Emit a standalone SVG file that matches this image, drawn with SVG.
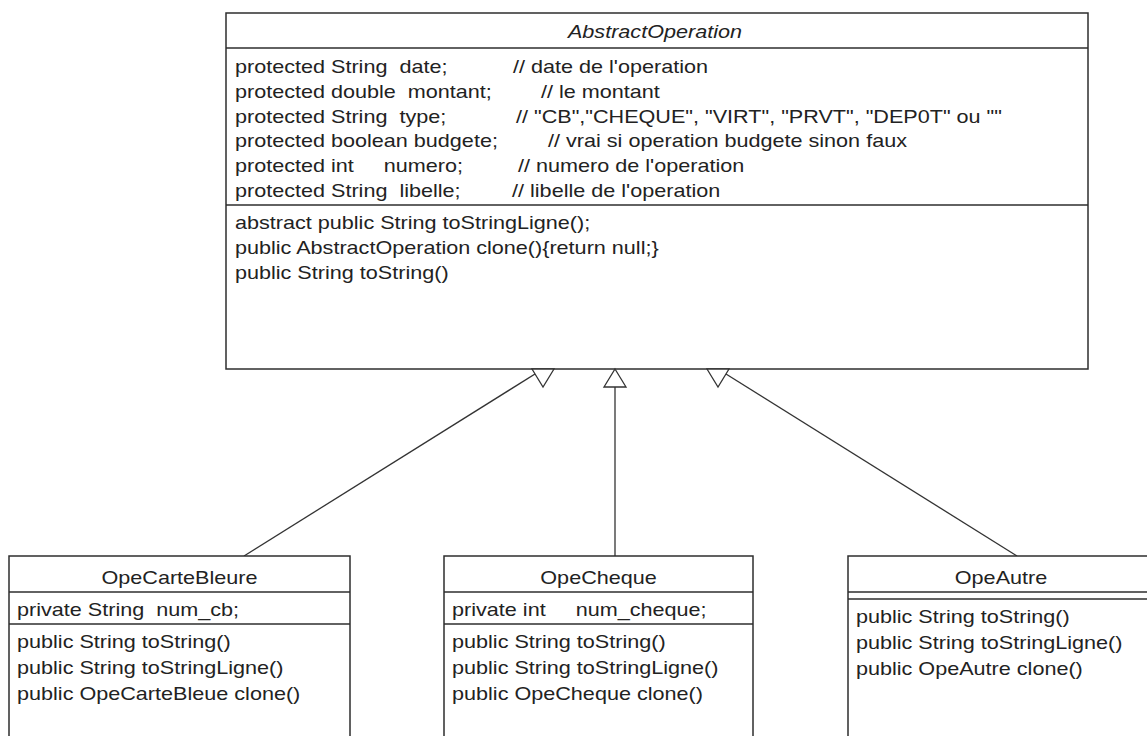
<svg xmlns="http://www.w3.org/2000/svg" width="1147" height="736" viewBox="0 0 1147 736">
<style>
.box{fill:#fff;stroke:#2e2e2e;stroke-width:1.5}
.sep{stroke:#2e2e2e;stroke-width:1.5;fill:none}
.edge{stroke:#333;stroke-width:1.3;fill:none}
.tri{fill:#fff;stroke:#333;stroke-width:1.3;stroke-linejoin:miter}
text{font-family:"Liberation Sans",Arial,sans-serif;font-size:18px;fill:#222}
.t{text-anchor:middle}
.i{font-style:italic}
</style>
<rect width="1147" height="736" fill="#fff"/>
<g id="edges">
<line class="edge" x1="244" y1="556" x2="543" y2="369"/>
<line class="edge" x1="615" y1="556" x2="615" y2="387"/>
<line class="edge" x1="1017" y1="556" x2="718" y2="369"/>
</g>
<g id="AbstractOperation">
<rect class="box" x="226" y="13" width="862" height="356"/>
<line class="sep" x1="226" y1="48" x2="1088" y2="48"/>
<line class="sep" x1="226" y1="205" x2="1088" y2="205"/>
<g transform="scale(1.2,1)">
<text class="t i" x="545.8" y="38">AbstractOperation</text>
<text x="195.8" y="73" xml:space="preserve">protected String  date;</text>
<text x="427.5" y="73">// date de l'operation</text>
<text x="195.8" y="98" xml:space="preserve">protected double  montant;</text>
<text x="450.8" y="98">// le montant</text>
<text x="195.8" y="123" xml:space="preserve">protected String  type;</text>
<text x="430" y="123">// "CB","CHEQUE", "VIRT", "PRVT", "DEP0T" ou ""</text>
<text x="195.8" y="147">protected boolean budgete;</text>
<text x="456.7" y="147">// vrai si operation budgete sinon faux</text>
<text x="195.8" y="172" xml:space="preserve">protected int     numero;</text>
<text x="431.7" y="172">// numero de l'operation</text>
<text x="195.8" y="197" xml:space="preserve">protected String  libelle;</text>
<text x="426.7" y="197">// libelle de l'operation</text>
<text x="195.8" y="229">abstract public String toStringLigne();</text>
<text x="195.8" y="254">public AbstractOperation clone(){return null;}</text>
<text x="195.8" y="279">public String toString()</text>
</g>
</g>
<g id="OpeCarteBleure">
<rect class="box" x="9" y="556" width="341" height="200"/>
<line class="sep" x1="9" y1="592" x2="350" y2="592"/>
<line class="sep" x1="9" y1="624" x2="350" y2="624"/>
<g transform="scale(1.2,1)">
<text class="t" x="149.6" y="584">OpeCarteBleure</text>
<text x="14.2" y="616" xml:space="preserve">private String  num_cb;</text>
<text x="14.2" y="648">public String toString()</text>
<text x="14.2" y="674">public String toStringLigne()</text>
<text x="14.2" y="700">public OpeCarteBleue clone()</text>
</g>
</g>
<g id="OpeCheque">
<rect class="box" x="444" y="556" width="309" height="200"/>
<line class="sep" x1="444" y1="592" x2="753" y2="592"/>
<line class="sep" x1="444" y1="624" x2="753" y2="624"/>
<g transform="scale(1.2,1)">
<text class="t" x="498.8" y="584">OpeCheque</text>
<text x="376.7" y="616" xml:space="preserve">private int     num_cheque;</text>
<text x="376.7" y="648">public String toString()</text>
<text x="376.7" y="674">public String toStringLigne()</text>
<text x="376.7" y="700">public OpeCheque clone()</text>
</g>
</g>
<g id="OpeAutre">
<rect class="box" x="848" y="556" width="306" height="200"/>
<line class="sep" x1="848" y1="592" x2="1154" y2="592"/>
<line class="sep" x1="848" y1="599" x2="1154" y2="599"/>
<g transform="scale(1.2,1)">
<text class="t" x="834.2" y="584">OpeAutre</text>
<text x="713.3" y="623">public String toString()</text>
<text x="713.3" y="649">public String toStringLigne()</text>
<text x="713.3" y="675">public OpeAutre clone()</text>
</g>
</g>
<g id="arrowheads">
<polygon class="tri" points="532,369 554,369 543,387"/>
<polygon class="tri" points="615,369 626,387 604,387"/>
<polygon class="tri" points="707,369 729,369 718,387"/>
</g>
</svg>
